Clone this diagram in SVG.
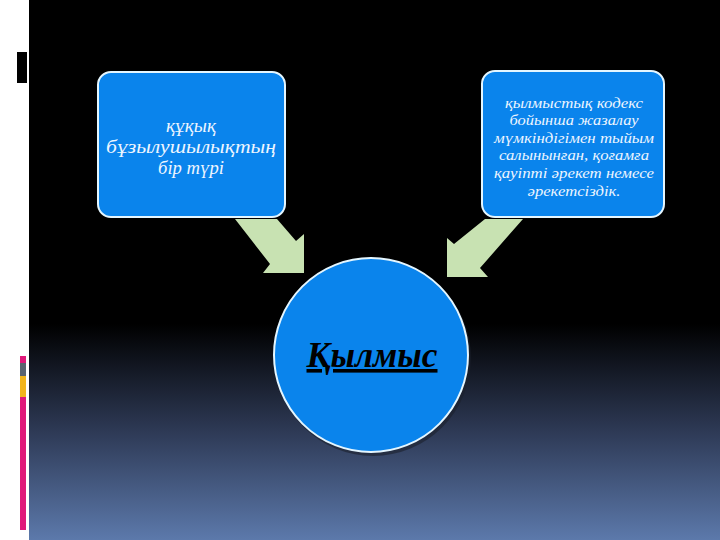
<svg xmlns="http://www.w3.org/2000/svg" width="720" height="540" viewBox="0 0 720 540">
  <defs>
    <linearGradient id="bg" x1="0" y1="0" x2="0" y2="540" gradientUnits="userSpaceOnUse">
      <stop offset="0" stop-color="#000000"/>
      <stop offset="0.6" stop-color="#000000"/>
      <stop offset="0.8" stop-color="#2e3a56"/>
      <stop offset="1" stop-color="#5c79ab"/>
    </linearGradient>
    <style>
      .node { fill: #0a84ec; stroke: #e4f6ff; stroke-width: 2; }
      .arrow { fill: #c8e2b2; stroke: none; }
      .lbl { font-family: "Liberation Serif", "DejaVu Serif", serif; font-style: italic; fill: #eef6ff; text-anchor: middle; }
      .big { font-size: 18px; }
      .small { font-size: 14px; }
      .main { font-family: "Liberation Serif", "DejaVu Serif", serif; font-style: italic; font-weight: bold; font-size: 36px; fill: #000000; text-anchor: middle; text-decoration: underline; }
    </style>
  </defs>

  <!-- background -->
  <rect x="0" y="0" width="720" height="540" fill="#ffffff"/>
  <rect x="29" y="0" width="691" height="540" fill="url(#bg)"/>
  <rect x="17" y="52" width="10" height="31" fill="#000000"/>
  <rect x="20" y="356" width="6" height="7" fill="#e0197a"/>
  <rect x="20" y="363" width="6" height="13" fill="#5a6470"/>
  <rect x="20" y="376" width="6" height="21" fill="#f2b51c"/>
  <rect x="20" y="397" width="6" height="133" fill="#e0197a"/>

  <g id="connectors">
    <polygon class="arrow" points="235,219 277,219 296,241 304,234 304,273 263,273 270,264"/>
    <polygon class="arrow" points="485,219 523,219 480,268 488,277 447,277 447,238 454,244"/>
  </g>

  <g id="node-left">
    <rect class="node" x="98" y="72" width="187" height="145" rx="13" ry="13"/>
    <text class="lbl big" x="191" y="132" textLength="50" lengthAdjust="spacingAndGlyphs">құқық</text>
    <text class="lbl big" x="191" y="153" textLength="170" lengthAdjust="spacingAndGlyphs">бұзылушылықтың</text>
    <text class="lbl big" x="191" y="174" textLength="66" lengthAdjust="spacingAndGlyphs">бір түрі</text>
  </g>

  <g id="node-right">
    <rect class="node" x="482" y="71" width="182" height="146" rx="13" ry="13"/>
    <text class="lbl small" x="574" y="108" textLength="138" lengthAdjust="spacingAndGlyphs">қылмыстық кодекс</text>
    <text class="lbl small" x="574" y="125" textLength="129" lengthAdjust="spacingAndGlyphs">бойынша жазалау</text>
    <text class="lbl small" x="574" y="143" textLength="160" lengthAdjust="spacingAndGlyphs">мүмкіндігімен тыйым</text>
    <text class="lbl small" x="574" y="160" textLength="150" lengthAdjust="spacingAndGlyphs">салынынған, қоғамға</text>
    <text class="lbl small" x="574" y="178" textLength="160" lengthAdjust="spacingAndGlyphs">қауіпті әрекет немесе</text>
    <text class="lbl small" x="574" y="196" textLength="93" lengthAdjust="spacingAndGlyphs">әрекетсіздік.</text>
  </g>

  <g id="node-center">
    <circle cx="371" cy="355" r="98" fill="#1a1f2c" opacity="0.6" transform="translate(2,3)"/>
    <circle class="node" cx="371" cy="355" r="97"/>
    <text class="main" x="372" y="367" textLength="131" lengthAdjust="spacingAndGlyphs">Қылмыс</text>
  </g>
</svg>
